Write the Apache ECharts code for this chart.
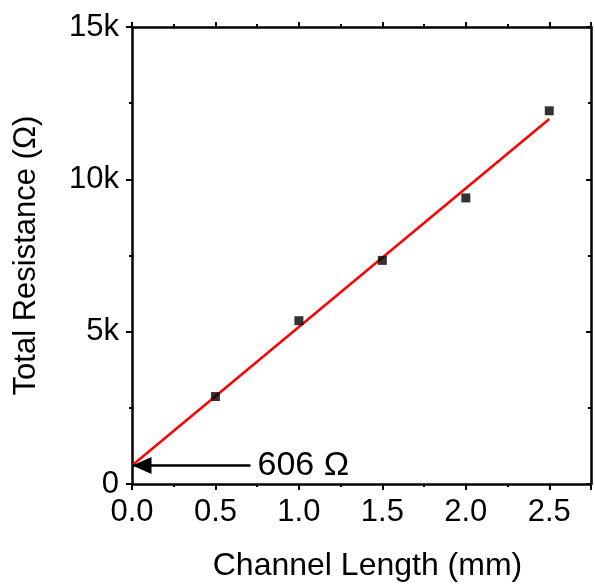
<!DOCTYPE html>
<html>
<head>
<meta charset="utf-8">
<script src="https://cdn.jsdelivr.net/npm/echarts@6/dist/echarts.min.js"></script>
<style>
  html, body { margin: 0; padding: 0; background: #fff; }
  #chart { width: 595px; height: 584px; }
</style>
</head>
<body>
<div id="chart"></div>
<script>
// measured data
const lengths = [0.5, 1.0, 1.5, 2.0, 2.5];
const resistances = [2870, 5360, 7340, 9390, 12250];
// linear fit end points
const fitX = [0, 2.5];
const fitY = [606, 11980];
// arrow annotation
const arrowX = [0.71, 0];
const contactR = 606;
const arrowText = '606 Ω';

const font = 'Liberation Sans, Arial, sans-serif';

const chart = echarts.init(document.getElementById('chart'));

const tickStyle = { color: '#000', width: 2 };
const axisLineStyle = { color: '#000', width: 2.5 };

const option = {
  animation: false,
  grid: { left: 132, right: 4, top: 27, bottom: 100, outerBoundsMode: 'none', containLabel: false },
  xAxis: [
    {
      type: 'value', min: 0, max: 2.75, interval: 0.5,
      name: 'Channel Length (mm)', nameLocation: 'middle', nameGap: 66,
      nameTextStyle: { fontFamily: font, fontSize: 32, color: '#000', padding: [0, 0, 0, 12] },
      axisLine: { onZero: false, lineStyle: axisLineStyle },
      axisTick: { length: 6, lineStyle: tickStyle },
      minorTick: { show: true, splitNumber: 2, length: 3, lineStyle: tickStyle },
      axisLabel: { fontFamily: font, fontSize: 31, color: '#000', margin: 13, showMaxLabel: false,
        formatter: v => v.toFixed(1) },
      splitLine: { show: false }
    },
    {
      type: 'value', min: 0, max: 2.75, interval: 0.5, position: 'top',
      axisLine: { onZero: false, lineStyle: axisLineStyle },
      axisTick: { length: 5, lineStyle: tickStyle },
      minorTick: { show: true, splitNumber: 2, length: 3, lineStyle: tickStyle },
      axisLabel: { show: false }, splitLine: { show: false }
    }
  ],
  yAxis: [
    {
      type: 'value', min: 0, max: 15000, interval: 5000,
      name: 'Total Resistance (Ω)', nameLocation: 'middle', nameGap: 90,
      nameTextStyle: { fontFamily: font, fontSize: 31, color: '#000' },
      axisLine: { show: true, onZero: false, lineStyle: axisLineStyle },
      axisTick: { show: true, length: 6, lineStyle: tickStyle },
      minorTick: { show: true, splitNumber: 2, length: 3, lineStyle: tickStyle },
      axisLabel: { fontFamily: font, fontSize: 31, color: '#000', margin: 13,
        formatter: v => v === 0 ? '0' : (v / 1000) + 'k' },
      splitLine: { show: false }
    },
    {
      type: 'value', min: 0, max: 15000, interval: 5000, position: 'right',
      axisLine: { show: true, onZero: false, lineStyle: axisLineStyle },
      axisTick: { show: true, inside: true, length: 5, lineStyle: tickStyle },
      minorTick: { show: true, splitNumber: 2, length: 3, lineStyle: tickStyle },
      axisLabel: { show: false }, splitLine: { show: false }
    }
  ],
  series: [
    {
      type: 'line',
      data: fitX.map((x, i) => [x, fitY[i]]),
      symbol: 'none',
      lineStyle: { color: '#ff0000', width: 2.5 },
      z: 2,
      markLine: {
        silent: true,
        symbol: ['none', 'triangle'],
        symbolSize: [17, 19],
        symbolOffset: [[0, 0], [0, 10]],
        lineStyle: { color: '#000', width: 2.5, type: 'solid' },
        label: {
          show: true, position: 'start', formatter: arrowText,
          fontFamily: font, fontSize: 34, color: '#000', distance: 7
        },
        data: [[
          { coord: [arrowX[0], contactR] },
          { coord: [arrowX[1], contactR] }
        ]]
      }
    },
    {
      type: 'scatter',
      data: lengths.map((x, i) => [x, resistances[i]]),
      symbol: 'rect',
      symbolSize: 9,
      itemStyle: { color: '#000' },
      z: 3
    }
  ]
};

chart.setOption(option);
</script>
</body>
</html>
